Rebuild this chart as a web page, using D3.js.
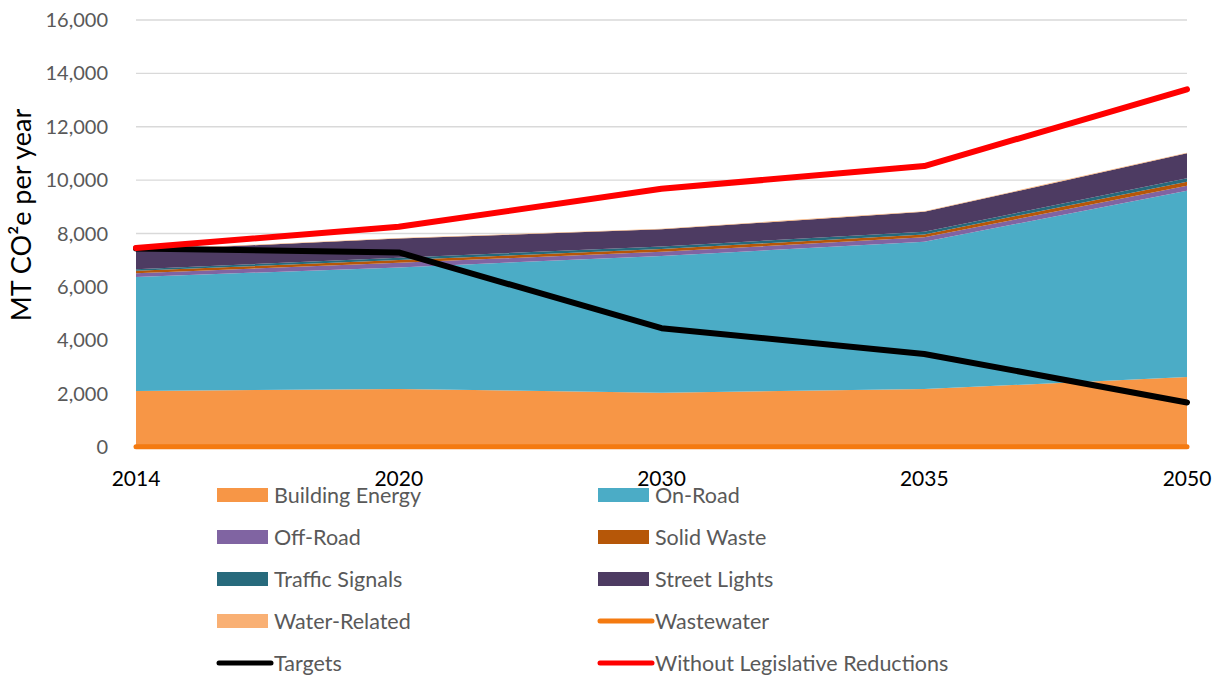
<!DOCTYPE html>
<html>
<head>
<meta charset="utf-8">
<script src="https://cdn.jsdelivr.net/npm/d3@7"></script>
<style>
  body { margin: 0; background: #fff; }
  svg { display: block; font-family: Lato, "Open Sans", sans-serif; }
</style>
</head>
<body>
<svg id="chart"></svg>
<script>
var width = 1217;
var height = 677;

var years = ["2014", "2020", "2030", "2035", "2050"];
var buildingEnergy = [2100, 2170, 2035, 2170, 2620];
var onRoad = [4270, 4560, 5125, 5520, 6985];
var offRoad = [140, 175, 157, 165, 187];
var solidWaste = [90, 100, 101, 112, 150];
var trafficSignals = [60, 85, 94, 99, 125];
var streetLights = [700, 720, 643, 748, 936];
var waterRelated = [20, 20, 20, 20, 20];
var wastewater = [10, 10, 10, 10, 10];
var targets = [7440, 7290, 4450, 3485, 1670];
var withoutReductions = [7460, 8250, 9680, 10525, 13400];
var yTicks = [0, 2000, 4000, 6000, 8000, 10000, 12000, 14000, 16000];

var areaSeries = [
  { name: "Building Energy", values: buildingEnergy, color: "#F79646" },
  { name: "On-Road", values: onRoad, color: "#4BACC6" },
  { name: "Off-Road", values: offRoad, color: "#8064A2" },
  { name: "Solid Waste", values: solidWaste, color: "#B65708" },
  { name: "Traffic Signals", values: trafficSignals, color: "#276A7C" },
  { name: "Street Lights", values: streetLights, color: "#4D3B62" },
  { name: "Water-Related", values: waterRelated, color: "#F9B074" }
];
var lineSeries = [
  { name: "Wastewater", values: wastewater, color: "#F47A10", w: 5 },
  { name: "Targets", values: targets, color: "#000000", w: 6 },
  { name: "Without Legislative Reductions", values: withoutReductions, color: "#FF0000", w: 6 }
];

var svg = d3.select("#chart")
  .attr("width", width)
  .attr("height", height);

var x = d3.scalePoint().domain(years).range([136, 1187]);
var y = d3.scaleLinear().domain([0, 16000]).range([447, 20]);

// gridlines
svg.append("g")
  .selectAll("line")
  .data(yTicks)
  .enter().append("line")
  .attr("x1", x.range()[0])
  .attr("x2", x.range()[1])
  .attr("y1", function(d) { return y(d); })
  .attr("y2", function(d) { return y(d); })
  .attr("stroke", "#D9D9D9")
  .attr("stroke-width", 1.3);

// y tick labels
svg.append("g")
  .selectAll("text")
  .data(yTicks)
  .enter().append("text")
  .attr("x", 108)
  .attr("y", function(d) { return y(d); })
  .attr("dy", "0.35em")
  .attr("text-anchor", "end")
  .attr("fill", "#595959")
  .style("font-size", "20px")
  .text(function(d) { return d3.format(",")(d); });

// y axis title
svg.append("text")
  .attr("transform", "translate(31,215) rotate(-90)")
  .attr("text-anchor", "middle")
  .attr("fill", "#000")
  .style("font-size", "27px")
  .text("MT CO²e per year");

// stacked areas
var rows = years.map(function(yr, i) {
  var r = { year: yr };
  areaSeries.forEach(function(s) { r[s.name] = s.values[i]; });
  return r;
});
var stack = d3.stack().keys(areaSeries.map(function(s) { return s.name; }));
var layers = stack(rows);

var area = d3.area()
  .x(function(d) { return x(d.data.year); })
  .y0(function(d) { return y(d[0]); })
  .y1(function(d) { return y(d[1]); });

svg.append("g")
  .selectAll("path")
  .data(layers)
  .enter().append("path")
  .attr("d", area)
  .attr("fill", function(d, i) { return areaSeries[i].color; });

// lines
var line = d3.line()
  .x(function(d, i) { return x(years[i]); })
  .y(function(d) { return y(d); });

svg.append("g")
  .selectAll("path")
  .data(lineSeries)
  .enter().append("path")
  .attr("d", function(d) { return line(d.values); })
  .attr("fill", "none")
  .attr("stroke", function(d) { return d.color; })
  .attr("stroke-width", function(d) { return d.w; })
  .attr("stroke-linejoin", "round")
  .attr("stroke-linecap", "round");

// x labels
svg.append("g")
  .selectAll("text")
  .data(years)
  .enter().append("text")
  .attr("x", function(d) { return x(d); })
  .attr("y", 486)
  .attr("text-anchor", "middle")
  .attr("fill", "#000")
  .style("font-size", "21px")
  .text(function(d) { return d; });

// legend
var legendItems = [
  { name: "Building Energy", color: "#F79646", type: "rect" },
  { name: "On-Road", color: "#4BACC6", type: "rect" },
  { name: "Off-Road", color: "#8064A2", type: "rect" },
  { name: "Solid Waste", color: "#B65708", type: "rect" },
  { name: "Traffic Signals", color: "#276A7C", type: "rect" },
  { name: "Street Lights", color: "#4D3B62", type: "rect" },
  { name: "Water-Related", color: "#F9B074", type: "rect" },
  { name: "Wastewater", color: "#F47A10", type: "line" },
  { name: "Targets", color: "#000000", type: "line" },
  { name: "Without Legislative Reductions", color: "#FF0000", type: "line" }
];
var colX = [217, 598];

var legend = svg.append("g")
  .selectAll("g")
  .data(legendItems)
  .enter().append("g")
  .attr("transform", function(d, i) {
    return "translate(" + colX[i % 2] + "," + (495 + Math.floor(i / 2) * 42) + ")";
  });

legend.filter(function(d) { return d.type === "rect"; })
  .append("rect")
  .attr("x", 0)
  .attr("y", -7)
  .attr("width", 51)
  .attr("height", 14)
  .attr("fill", function(d) { return d.color; });

legend.filter(function(d) { return d.type === "line"; })
  .append("line")
  .attr("x1", 2)
  .attr("x2", 54)
  .attr("y1", 0)
  .attr("y2", 0)
  .attr("stroke", function(d) { return d.color; })
  .attr("stroke-width", 5)
  .attr("stroke-linecap", "round");

legend.append("text")
  .attr("x", 57)
  .attr("y", 0)
  .attr("dy", "0.35em")
  .attr("fill", "#595959")
  .style("font-size", "21.5px")
  .text(function(d) { return d.name; });
</script>
</body>
</html>
